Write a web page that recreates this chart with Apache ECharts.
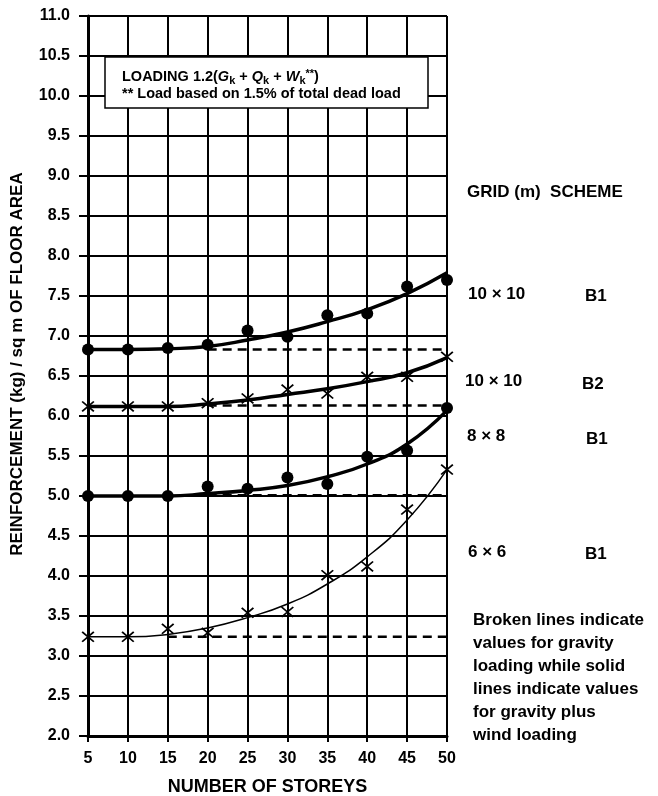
<!DOCTYPE html>
<html>
<head>
<meta charset="utf-8">
<script src="https://cdn.jsdelivr.net/npm/echarts@6/dist/echarts.min.js"></script>
<style>
  html, body { margin: 0; padding: 0; background: #fff; }
  #chart { width: 658px; height: 796px; }
</style>
</head>
<body>
<div id="chart"></div>
<script>
// number of storeys
const storeys = [5, 10, 15, 20, 25, 30, 35, 40, 45, 50]

// plotted points (kg / sq m)
const pts10x10B1 = [6.83, 6.83, 6.85, 6.89, 7.07, 6.99, 7.26, 7.28, 7.62, 7.70]
const pts10x10B2 = [6.12, 6.12, 6.12, 6.16, 6.22, 6.33, 6.28, 6.49, 6.49, 6.74]
const pts8x8B1 = [5.00, 5.00, 5.00, 5.12, 5.09, 5.23, 5.15, 5.49, 5.57, 6.10]
const pts6x6B1 = [3.24, 3.24, 3.34, 3.29, 3.54, 3.55, 4.01, 4.12, 4.83, 5.33]

// fitted curves (gravity plus wind)
const fit10x10B1 = [6.83, 6.83, 6.84, 6.87, 6.95, 7.05, 7.18, 7.33, 7.53, 7.79]
const fit10x10B2 = [6.12, 6.12, 6.12, 6.15, 6.20, 6.27, 6.34, 6.43, 6.54, 6.73]
const fit8x8B1 = [5.00, 5.00, 5.00, 5.03, 5.07, 5.13, 5.24, 5.40, 5.65, 6.07]
const fit6x6B1 = [3.24, 3.24, 3.27, 3.35, 3.48, 3.65, 3.90, 4.24, 4.70, 5.33]

// gravity only (broken lines): [from storeys, to storeys, value]
const grav10x10B1 = [20, 50, 6.83]
const grav10x10B2 = [20, 50, 6.13]
const grav8x8B1 = [20, 50, 5.01]
const grav6x6B1 = [15, 50, 3.24]

const yTicks = [2, 11, 0.5]

const FONT = 'Liberation Sans'
const crossPath = 'path://M0,1L1,0L10,9L9,10ZM9,0L10,1L1,10L0,9Z'
const sideFont = 'bold 17px "Liberation Sans"'

const chart = echarts.init(document.getElementById('chart'), null, { renderer: 'canvas' })

function pair(ys) {
  return storeys.map((x, i) => [x, ys[i]])
}

function curve(ys, width) {
  return {
    type: 'line',
    data: pair(ys),
    smooth: 0.5,
    showSymbol: false,
    lineStyle: { color: '#000', width: width },
    z: 3,
    silent: true
  }
}

function dashed(g) {
  return {
    type: 'line',
    data: [[g[0], g[2]], [g[1], g[2]]],
    showSymbol: false,
    lineStyle: { color: '#000', width: 2.5, type: [9, 6] },
    z: 3,
    silent: true
  }
}

function marks(ys, dot) {
  return {
    type: 'scatter',
    data: pair(ys),
    symbol: dot ? 'circle' : crossPath,
    symbolSize: dot ? 12 : [13, 11],
    itemStyle: { color: '#000', opacity: 1 },
    z: 4,
    silent: true
  }
}

function side(x, y, text) {
  return { type: 'text', x: x, y: y, style: { text: text, font: sideFont, fill: '#000' } }
}

chart.setOption({
  backgroundColor: '#fff',
  animation: false,
  grid: { left: 88, right: 211, top: 16, bottom: 60, outerBoundsMode: 'none', containLabel: false },
  xAxis: {
    type: 'value',
    min: 5,
    max: 50,
    interval: 5,
    name: 'NUMBER OF STOREYS',
    nameLocation: 'middle',
    nameGap: 42,
    nameTextStyle: { color: '#000', fontFamily: FONT, fontSize: 18, fontWeight: 'bold' },
    axisLine: { onZero: false, lineStyle: { color: '#000', width: 3 } },
    axisTick: { show: true, length: 6, lineStyle: { color: '#000', width: 2 } },
    axisLabel: { color: '#000', fontFamily: FONT, fontSize: 16, fontWeight: 'bold', margin: 15 },
    splitLine: { show: true, lineStyle: { color: '#000', width: 2 } }
  },
  yAxis: {
    type: 'value',
    min: yTicks[0],
    max: yTicks[1],
    interval: yTicks[2],
    name: 'REINFORCEMENT (kg) / sq m OF FLOOR AREA',
    nameLocation: 'middle',
    nameGap: 62,
    nameTextStyle: { color: '#000', fontFamily: FONT, fontSize: 17, fontWeight: 'bold', padding: [0, 0, 0, 24] },
    axisLine: { show: true, onZero: false, lineStyle: { color: '#000', width: 3 } },
    axisTick: { show: true, length: 9, lineStyle: { color: '#000', width: 2 } },
    axisLabel: {
      color: '#000', fontFamily: FONT, fontSize: 16, fontWeight: 'bold', margin: 18,
      formatter: v => v.toFixed(1)
    },
    splitLine: { show: true, lineStyle: { color: '#000', width: 2 } }
  },
  series: [
    dashed(grav10x10B1),
    dashed(grav10x10B2),
    dashed(grav8x8B1),
    dashed(grav6x6B1),
    curve(fit10x10B1, 3.5),
    curve(fit10x10B2, 3.5),
    curve(fit8x8B1, 3.5),
    curve(fit6x6B1, 1.5),
    marks(pts10x10B1, true),
    marks(pts10x10B2, false),
    marks(pts8x8B1, true),
    marks(pts6x6B1, false)
  ],
  graphic: [
    {
      type: 'rect',
      shape: { x: 105, y: 57, width: 323, height: 51 },
      style: { fill: '#fff', stroke: '#000', lineWidth: 1.5 },
      z: 10
    },
    {
      type: 'text',
      x: 122, y: 68,
      style: {
        text: '{n|LOADING 1.2(}{i|G}{s|k}{n| + }{i|Q}{s|k}{n| + }{i|W}{s|k}{p|**}{n|)}',
        rich: {
          n: { fontFamily: FONT, fontSize: 14.5, fontWeight: 'bold', fill: '#000' },
          i: { fontFamily: FONT, fontSize: 14.5, fontWeight: 'bold', fontStyle: 'italic', fill: '#000' },
          s: { fontFamily: FONT, fontSize: 11, fontWeight: 'bold', fill: '#000', padding: [7, 0, 0, 0] },
          p: { fontFamily: FONT, fontSize: 11, fontWeight: 'bold', fill: '#000', padding: [0, 0, 7, 0] }
        }
      },
      z: 11
    },
    {
      type: 'text',
      x: 122, y: 86,
      style: { text: '** Load based on 1.5% of total dead load', font: 'bold 14.5px "Liberation Sans"', fill: '#000' },
      z: 11
    },
    side(467, 184, 'GRID (m)  SCHEME'),
    side(468, 286, '10 \u00d7 10'),
    side(585, 288, 'B1'),
    side(465, 373, '10 \u00d7 10'),
    side(582, 376, 'B2'),
    side(467, 428, '8 \u00d7 8'),
    side(586, 431, 'B1'),
    side(468, 544, '6 \u00d7 6'),
    side(585, 546, 'B1'),
    {
      type: 'text', x: 473, y: 609,
      style: {
        text: 'Broken lines indicate\nvalues for gravity\nloading while solid\nlines indicate values\nfor gravity plus\nwind loading',
        font: sideFont,
        lineHeight: 23,
        fill: '#000'
      }
    }
  ]
})
</script>
</body>
</html>
